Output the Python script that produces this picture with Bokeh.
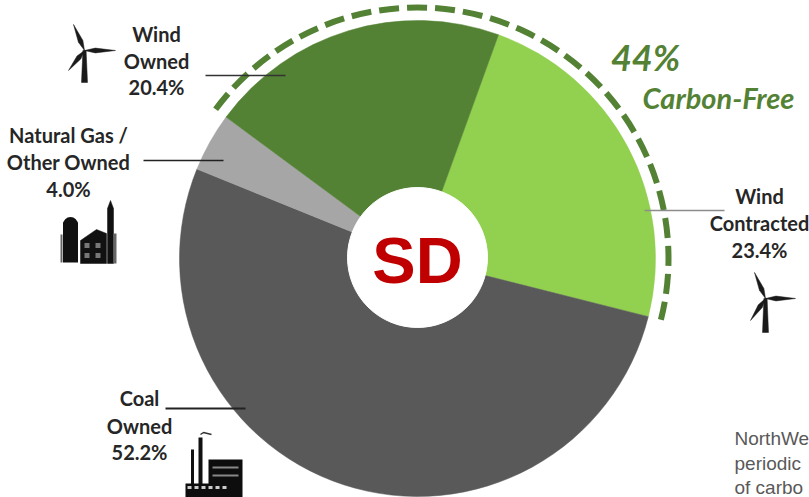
import math
from bokeh.plotting import figure
from bokeh.core.properties import value
from bokeh.embed import file_html
from bokeh.resources import INLINE

categories = ["Wind Contracted", "Coal Owned", "Natural Gas / Other Owned", "Wind Owned"]
shares = [23.4, 52.2, 4.0, 20.4]
colors = ["#92D050", "#595959", "#A6A6A6", "#548235"]
label_lines = [["Wind", "Contracted", "23.4%"], ["Coal", "Owned", "52.2%"],
               ["Natural Gas /", "Other Owned", "4.0%"], ["Wind", "Owned", "20.4%"]]
center_label = "SD"
carbon_share = "44%"
carbon_label = "Carbon-Free"
footnote = ["NorthWe", "periodic", "of carbo"]

W, H = 809, 497
p = figure(width=W, height=H, x_range=(0, W), y_range=(0, H),
           output_backend="svg", toolbar_location=None, min_border=0)
p.xaxis.visible = False
p.yaxis.visible = False
p.grid.visible = False
p.outline_line_color = None


def Y(py):
    return H - py


CX, CY, R = 417, 258, 238
start_deg = 19.9  # clockwise from top


def ang(deg):
    return math.radians(90 - deg)


a = start_deg
for s, c in zip(shares, colors):
    b = a + s * 3.6
    p.wedge(x=[CX], y=[Y(CY)], radius=R, start_angle=ang(a), end_angle=ang(b),
            direction="clock", fill_color=c, line_color=c, line_width=0.5)
    a = b

# carbon-free arc, spanning the two wind slices
wind_start = start_deg + (shares[0] + shares[1] + shares[2]) * 3.6
wind_end = start_deg + shares[0] * 3.6
p.arc(x=[CX], y=[Y(CY)], radius=251, start_angle=ang(wind_start), end_angle=ang(wind_end),
      direction="clock", line_color="#548235", line_width=6, line_dash="20 8")

p.circle(x=[CX], y=[Y(257)], radius=70, fill_color="white", line_color="white")


def txt(x, py, s, size, color="#262626", font="Lato", style="bold", align="center"):
    p.text(x=[x], y=[Y(py)], text=[s], text_font=value(font), text_font_size=size,
           text_font_style=style, text_color=color, text_align=align, text_baseline="middle")


p.text(x=[417], y=[Y(260)], text=[center_label], text_font=value("Liberation Sans"),
       text_font_size="65px", text_font_style="bold", text_color="#C00000",
       text_align="center", text_baseline="middle")

txt(645, 56, carbon_share, "36px", "#548235", style="bold italic")
txt(718, 97, carbon_label, "29px", "#548235", style="bold italic")

# leaders
for x0, x1, py, col, w in [(205, 285, 75, "#333333", 1.3), (143, 223, 160, "#222222", 1.7),
                           (165, 245, 408, "#222222", 1.8), (644, 724, 210, "#8c8c8c", 1.7)]:
    p.line([x0, x1], [Y(py), Y(py)], line_color=col, line_width=w)

# labels
positions = [(759, [195, 222, 249]), (139, [397, 425, 451]), (68, [134, 161, 188]), (156, [33, 60, 86])]
for lines, (x, pys) in zip(label_lines, positions):
    for s, py in zip(lines, pys):
        txt(x, py, s, "20px")

for s, py in zip(footnote, [438, 463, 487]):
    p.text(x=[734], y=[Y(py)], text=[s], text_font=value("Liberation Sans"), text_font_size="19px",
           text_color="#595959", text_align="left", text_baseline="middle")


def poly(xs, ys, color="#1a1a1a"):
    p.patch(xs, [Y(v) for v in ys], fill_color=color, line_color=color, line_width=0.5)


def turbine(hx, hy, tips, base):
    for tx, ty in tips:
        dx, dy = tx - hx, ty - hy
        L = math.hypot(dx, dy)
        nx, ny = -dy / L, dx / L
        mx, my = hx + dx * 0.35, hy + dy * 0.35
        poly([hx, mx + nx * 2.4, tx, mx - nx * 2.4], [hy, my + ny * 2.4, ty, my - ny * 2.4])
    poly([hx - 1.6, hx + 1.6, hx + 3, hx - 3], [hy, hy, base, base])


turbine(84, 50, [(73, 24), (115, 50), (68, 70)], 82)
turbine(765, 298, [(754, 272), (795, 298), (750, 320)], 332)

# barn / gas plant icon
p.rect(x=[70], y=[Y(242)], width=15, height=40, fill_color="#111111", line_color=None)
p.circle(x=[70], y=[Y(224)], radius=7.5, fill_color="#111111", line_color=None)
poly([80, 96, 106, 106, 80], [240, 229, 233, 263, 263], "#111111")
poly([107, 110, 113, 113, 107], [208, 200, 208, 263, 263], "#111111")
for xx in [84, 95]:
    for yy in [245, 255]:
        p.rect(x=[xx + 2.5], y=[Y(yy)], width=5, height=5, fill_color="#777777", line_color=None)
p.rect(x=[114.5], y=[Y(248)], width=3, height=30, fill_color="#666666", line_color=None)
p.rect(x=[61], y=[Y(248)], width=2, height=28, fill_color="#666666", line_color=None)

# coal plant icon
p.rect(x=[192], y=[Y(468)], width=3, height=38, fill_color="#111111", line_color=None)
p.rect(x=[200], y=[Y(462)], width=4, height=50, fill_color="#111111", line_color=None)
p.line([200, 203, 207, 211], [Y(434), Y(432), Y(433), Y(434)], line_color="#333333", line_width=1.5)
p.rect(x=[225], y=[Y(478)], width=34, height=38, fill_color="#0d0d0d", line_color=None)
p.rect(x=[209], y=[Y(490)], width=48, height=14, fill_color="#0d0d0d", line_color=None)
p.rect(x=[225], y=[Y(467)], width=26, height=2, fill_color="#888888", line_color=None)
p.rect(x=[225], y=[Y(475)], width=26, height=2, fill_color="#888888", line_color=None)
for xx in [189, 196, 203, 210, 217, 224]:
    p.rect(x=[xx], y=[Y(487)], width=4, height=3, fill_color="#cccccc", line_color=None)

open("out.html", "w").write(file_html(p, INLINE))
